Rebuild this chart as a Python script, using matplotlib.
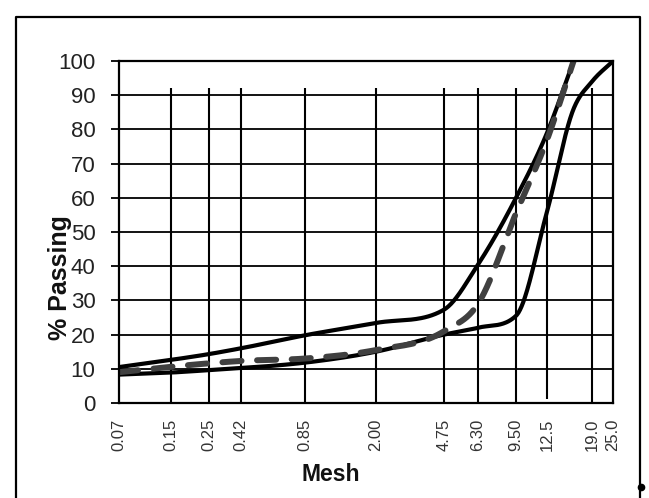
import numpy as np
import matplotlib
matplotlib.use("Agg")
import matplotlib.pyplot as plt
from matplotlib.lines import Line2D

plt.rcParams['font.family'] = ['Liberation Sans', 'DejaVu Sans']

# sieve sizes shown on the axis
mesh_ticks = [0.07, 0.15, 0.25, 0.42, 0.85, 2.00, 4.75, 6.30, 9.50, 12.5, 19.0, 25.0]
mesh_labels = ["0.07", "0.15", "0.25", "0.42", "0.85", "2.00", "4.75", "6.30",
               "9.50", "12.5", "19.0", "25.0"]
# where each sieve sits along the axis (fraction of width), as in the original
tick_pos = [0, 0.1053, 0.1822, 0.2470, 0.3765, 0.5202, 0.6579, 0.7267,
            0.8036, 0.8664, 0.9575, 1.0]

# gradation curves
upper_mesh = [0.07, 0.15, 0.25, 0.42, 0.85, 2.00, 4.75, 6.30, 9.50, 12.5, 16.0]
upper_pass = [10.5, 12.6, 14.3, 16.0, 19.8, 23.4, 27.3, 40.5, 60.0, 79.0, 100.0]

lower_mesh = [0.07, 0.15, 0.25, 0.42, 0.85, 2.00, 4.75, 6.30, 9.50, 12.5, 16.0, 19.0, 25.0]
lower_pass = [8.3, 8.9, 9.6, 10.2, 11.8, 15.0, 20.0, 22.0, 25.5, 56.0, 86.0, 94.0, 100.0]

mix_mesh = [0.07, 0.15, 0.25, 0.42, 0.85, 2.00, 4.75, 6.30, 9.50, 12.5, 16.0]
mix_pass = [9.0, 10.6, 11.6, 12.3, 13.0, 15.5, 21.0, 29.0, 55.5, 77.0, 100.0]

yticks = list(range(0, 101, 10))

logm = np.log(mesh_ticks)


def fwd(x):
    x = np.asarray(x, dtype=float)
    return np.interp(np.log(np.clip(x, 1e-6, None)), logm, tick_pos,
                     left=-1, right=2)


def inv(p):
    return np.exp(np.interp(p, tick_pos, logm))


def smooth(xs, ys, n=40):
    # smoothed line through the points (hermite, kept monotone), in axis space
    px = fwd(xs)
    py = np.asarray(ys, dtype=float)
    h = np.diff(px)
    d = np.diff(py) / h
    m = np.zeros_like(py)
    m[0], m[-1] = d[0], d[-1]
    for k in range(1, len(py) - 1):
        if d[k - 1] * d[k] <= 0:
            m[k] = 0
        else:
            m[k] = (h[k] * d[k - 1] + h[k - 1] * d[k]) / (h[k - 1] + h[k])
            m[k] = min(m[k], 3 * min(d[k - 1], d[k]))
    xo, yo = [], []
    for k in range(len(h)):
        t = np.linspace(0, 1, n)
        if k > 0:
            t = t[1:]
        h00 = 2 * t**3 - 3 * t**2 + 1
        h10 = t**3 - 2 * t**2 + t
        h01 = -2 * t**3 + 3 * t**2
        h11 = t**3 - t**2
        xo.append(px[k] + t * h[k])
        yo.append(h00 * py[k] + h10 * h[k] * m[k] + h01 * py[k + 1]
                  + h11 * h[k] * m[k + 1])
    return inv(np.concatenate(xo)), np.concatenate(yo)


fig = plt.figure(figsize=(6.49, 4.98), dpi=100)
ax = fig.add_axes([0.1834, 0.1908, 0.7612, 0.6867])
ax.set_xscale('function', functions=(fwd, inv))
ax.set_xlim(mesh_ticks[0], mesh_ticks[-1])
ax.set_ylim(0, 100)

# grid
for yv in yticks[1:-1]:
    ax.axhline(yv, color='black', lw=1.3, zorder=1)
vl_bottom = [0, 0, 0, 0, 0, 0, 0, 0, 0, 1.2, 0, 0]
for m, b in zip(mesh_ticks[1:-1], vl_bottom[1:-1]):
    ax.vlines(m, b, 92, color='black', lw=1.5, zorder=1)

x, y = smooth(lower_mesh, lower_pass)
ax.plot(x, y, color='black', lw=3.0, solid_capstyle='round', zorder=3)
x, y = smooth(upper_mesh, upper_pass)
ax.plot(x, y, color='black', lw=3.0, solid_capstyle='round', zorder=3)
x, y = smooth(mix_mesh, mix_pass)
ax.plot(x, y, color='#404040', lw=4.3, dashes=(3.2, 2.6),
        dash_capstyle='round', zorder=4)

ax.set_xticks(mesh_ticks)
ax.set_xticklabels(mesh_labels, rotation=90, fontsize=12, color='#333333')
ax.xaxis.set_minor_locator(matplotlib.ticker.NullLocator())
ax.tick_params(axis='x', length=0, pad=11)
ax.set_yticks(yticks)
ax.set_yticklabels([str(v) for v in yticks], fontsize=16, color='#222222')
ax.tick_params(axis='y', length=6, width=1.3, pad=11)
for s in ax.spines.values():
    s.set_linewidth(1.6)
    s.set_zorder(5)

fig.text(0.0925, 0.442, "% Passing", rotation=90, ha='center', va='center',
         fontsize=18, fontweight='bold', color='#111111')
fig.text(0.510, 0.0462, "Mesh", ha='center', va='center',
         fontsize=16.5, fontweight='bold', color='#111111')

# outer frame of the picture
fx0, fx1, fy1 = 16 / 649, 640 / 649, 1 - 17 / 498
fig.add_artist(Line2D([fx0, fx0, fx1, fx1], [0, fy1, fy1, 0],
                      color='black', lw=1.6, transform=fig.transFigure))
fig.add_artist(Line2D([641 / 649], [1 - 487 / 498], marker='o', ms=4.5,
                      color='black', transform=fig.transFigure))

fig.savefig("out.png", dpi=100)
